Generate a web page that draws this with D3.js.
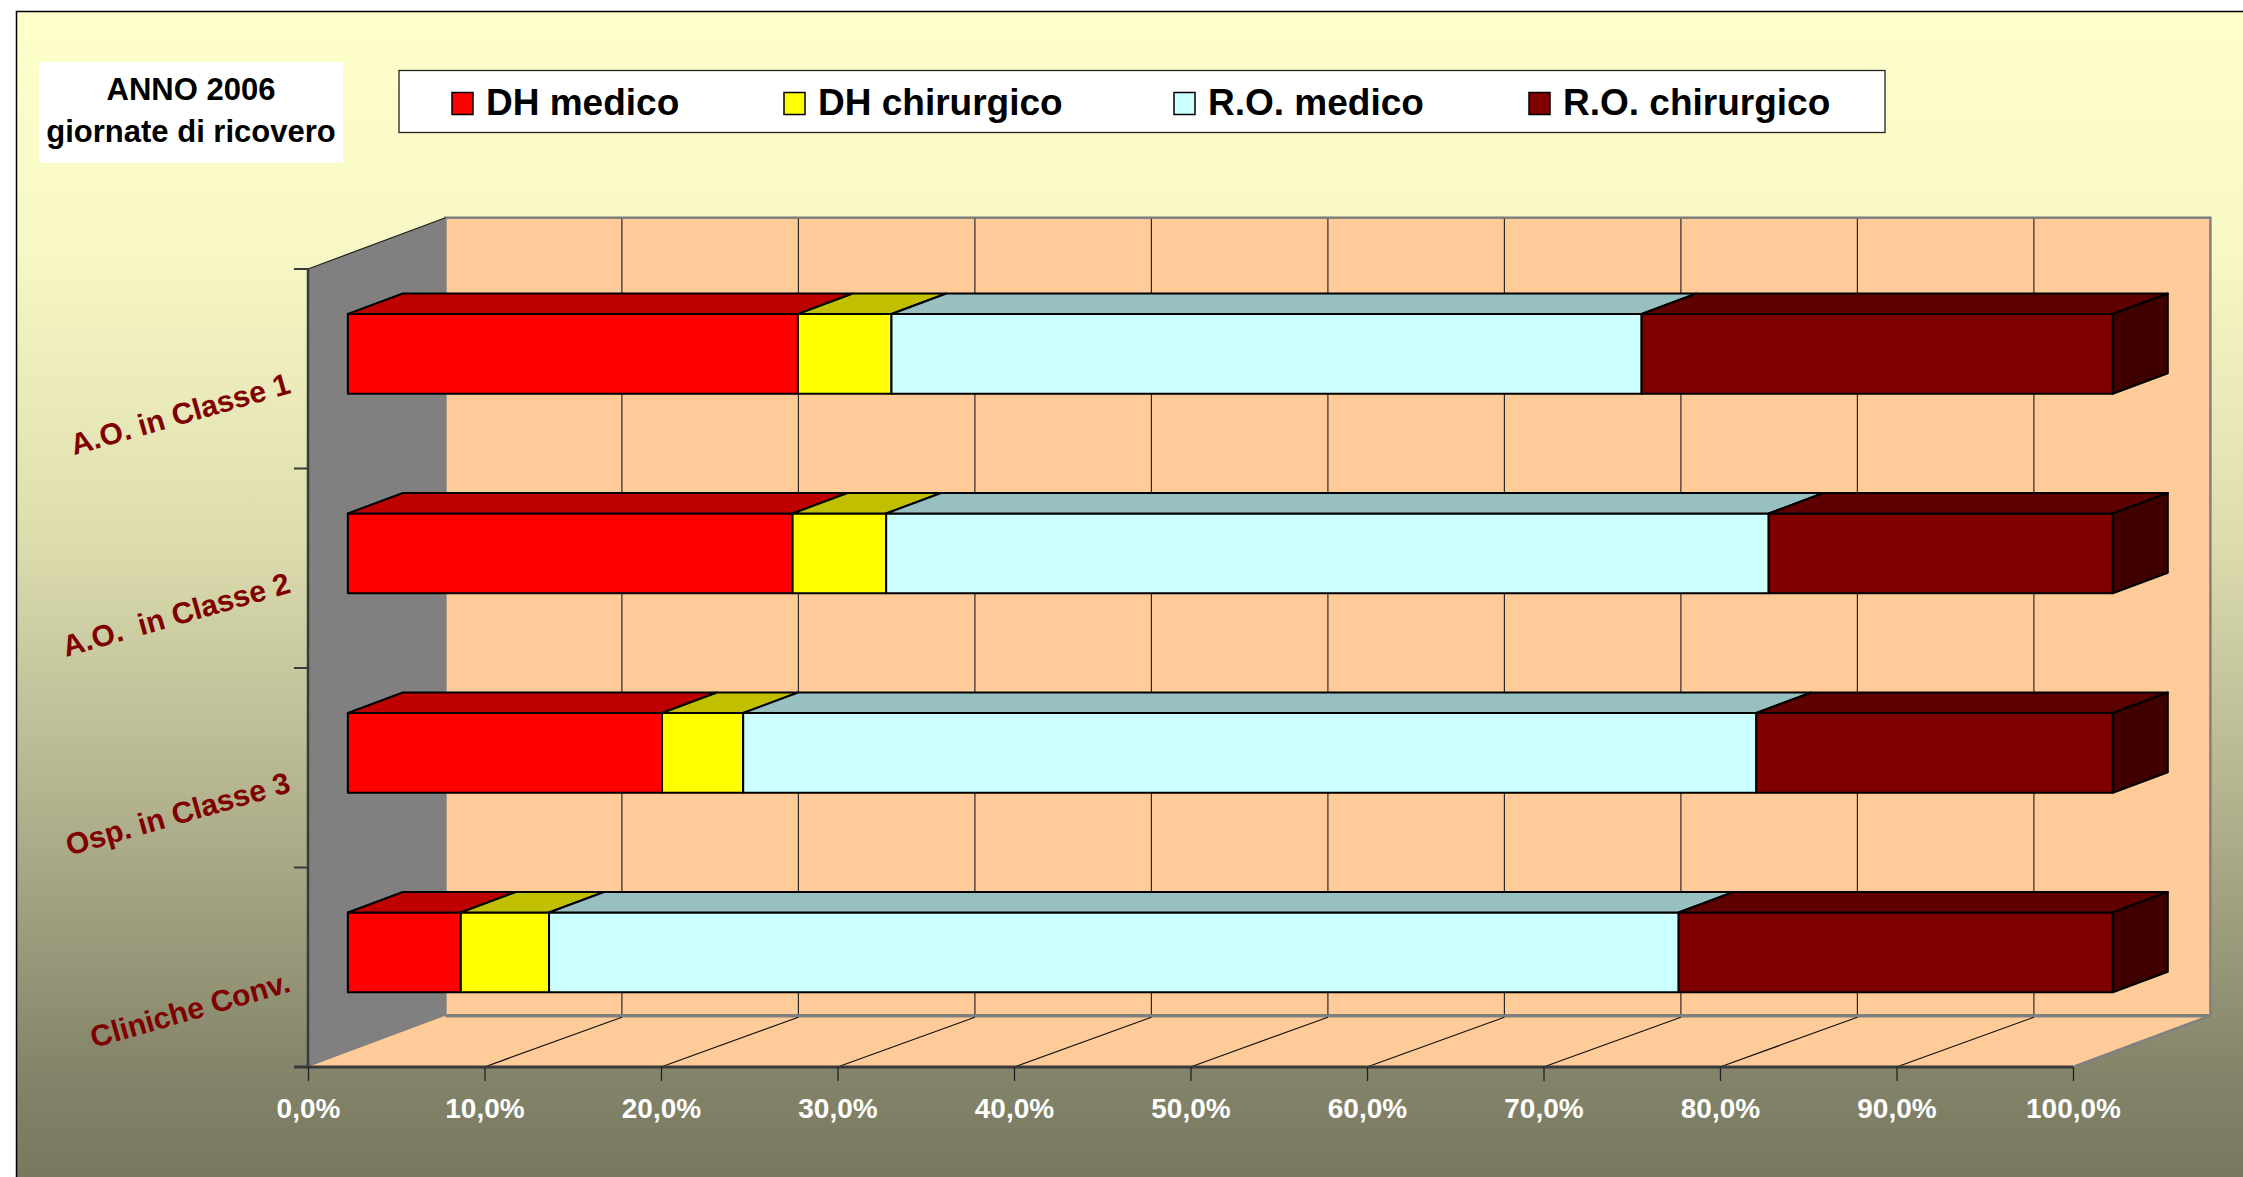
<!DOCTYPE html>
<html>
<head>
<meta charset="utf-8">
<script src="https://cdn.jsdelivr.net/npm/d3@7"></script>
<style>
  body { margin: 0; background: #fff; }
  text { font-family: "Liberation Sans", Arial, sans-serif; font-weight: bold; }
</style>
</head>
<body>
<script>
// data (percent of giornate di ricovero)
const categories = ["A.O. in Classe 1", "A.O.  in Classe 2", "Osp. in Classe 3", "Cliniche Conv."];
const seriesNames = ["DH medico", "DH chirurgico", "R.O. medico", "R.O. chirurgico"];
const dhMedico     = [25.5, 25.2, 17.8, 6.4];
const dhChirurgico = [5.3, 5.3, 4.6, 5.0];
const roMedico     = [42.5, 50.0, 57.4, 64.0];
const roChirurgico = [26.7, 19.5, 20.2, 24.6];
const xTickValues  = [0, 10, 20, 30, 40, 50, 60, 70, 80, 90, 100];
const titleLines   = ["ANNO 2006", "giornate di ricovero"];

const colors = {
    "DH medico":       {front: "#FF0000", top: "#BF0000", side: "#800000"},
    "DH chirurgico":   {front: "#FFFF00", top: "#C0C000", side: "#808000"},
    "R.O. medico":     {front: "#CCFFFF", top: "#99C0C0", side: "#669999"},
    "R.O. chirurgico": {front: "#800000", top: "#5E0000", side: "#400000"}
};

const width = 2243, height = 1177;

const svg = d3.select("body").append("svg")
    .attr("width", width)
    .attr("height", height);

// background gradient
const grad = svg.append("defs").append("linearGradient")
    .attr("id", "bg")
    .attr("x1", 0).attr("y1", 0).attr("x2", 0).attr("y2", 1);
[[0, "#FFFFCC"], [0.2, "#F8F8C6"], [0.45, "#DCDCAE"], [0.7, "#ADAD8B"], [0.9, "#84846A"], [1, "#77775F"]]
    .forEach(s => grad.append("stop").attr("offset", s[0]).attr("stop-color", s[1]));

svg.append("rect")
    .attr("x", 16.5).attr("y", 11.5)
    .attr("width", width).attr("height", height)
    .attr("fill", "url(#bg)")
    .attr("stroke", "#000")
    .attr("stroke-width", 1.5);

// scales + fake 3d projection
const x = d3.scaleLinear().domain([0, 100]).range([308, 2073]);
const y = d3.scaleBand().domain(categories).range([269, 1067])
    .paddingInner(0.6).paddingOuter(0.3);
const DX = 137.4, DY = -51.3;
const z0 = 0.29, z1 = 0.69;
const P = (v, yy, z) => [x(v) + z * DX, yy + z * DY];

const yTop = y.range()[0], yBottom = y.range()[1];
const plot = svg.append("g");

// back wall
const bw0 = P(0, yTop, 1), bw1 = P(100, yBottom, 1);
plot.append("rect")
    .attr("x", bw0[0]).attr("y", bw0[1])
    .attr("width", bw1[0] - bw0[0]).attr("height", bw1[1] - bw0[1])
    .attr("fill", "#FFCC99")
    .attr("stroke", "#808080")
    .attr("stroke-width", 2.5);

// side wall
plot.append("polygon")
    .attr("points", [P(0, yTop, 0), P(0, yTop, 1), P(0, yBottom, 1), P(0, yBottom, 0)].join(" "))
    .attr("fill", "#808080");
plot.append("line")
    .attr("x1", P(0, yTop, 0)[0]).attr("y1", P(0, yTop, 0)[1])
    .attr("x2", P(0, yTop, 1)[0]).attr("y2", P(0, yTop, 1)[1])
    .attr("stroke", "#202020").attr("stroke-width", 1.2);

// floor
plot.append("polygon")
    .attr("points", [P(0, yBottom, 0), P(100, yBottom, 0), P(100, yBottom, 1), P(0, yBottom, 1)].join(" "))
    .attr("fill", "#FFCC99");
plot.append("line")
    .attr("x1", P(0, yBottom, 1)[0]).attr("y1", P(0, yBottom, 1)[1])
    .attr("x2", P(100, yBottom, 1)[0]).attr("y2", P(100, yBottom, 1)[1])
    .attr("stroke", "#808080").attr("stroke-width", 3.5);
plot.append("line")
    .attr("x1", P(100, yBottom, 0)[0]).attr("y1", P(100, yBottom, 0)[1])
    .attr("x2", P(100, yBottom, 1)[0]).attr("y2", P(100, yBottom, 1)[1])
    .attr("stroke", "#808080").attr("stroke-width", 2.5);

// gridlines on wall and floor
const inner = xTickValues.slice(1, -1);
plot.selectAll(".wall-grid")
    .data(inner)
    .enter()
    .append("line")
    .attr("class", "wall-grid")
    .attr("x1", d => P(d, yTop, 1)[0]).attr("y1", P(0, yTop, 1)[1] + 1)
    .attr("x2", d => P(d, yBottom, 1)[0]).attr("y2", P(0, yBottom, 1)[1] - 1.5)
    .attr("stroke", "#2a2a2a").attr("stroke-width", 1.2);

plot.selectAll(".floor-grid")
    .data(inner)
    .enter()
    .append("line")
    .attr("class", "floor-grid")
    .attr("x1", d => P(d, yBottom, 0)[0]).attr("y1", d => P(d, yBottom, 0)[1])
    .attr("x2", d => P(d, yBottom, 1)[0]).attr("y2", d => P(d, yBottom, 1)[1] + 1.5)
    .attr("stroke", "#111").attr("stroke-width", 1.2);

// bars
const table = categories.map((c, i) => ({
    cat: c,
    "DH medico": dhMedico[i],
    "DH chirurgico": dhChirurgico[i],
    "R.O. medico": roMedico[i],
    "R.O. chirurgico": roChirurgico[i]
}));
const stacked = d3.stack().keys(seriesNames)(table);

const bars = plot.append("g");
stacked.forEach((layer, li) => {
    const col = colors[layer.key];
    const last = li === stacked.length - 1;
    layer.forEach(d => {
        const v0 = d[0], v1 = d[1];
        const ya = y(d.data.cat), yb = ya + y.bandwidth();
        const g = bars.append("g")
            .attr("stroke", "#000")
            .attr("stroke-width", 2)
            .attr("stroke-linejoin", "round");
        g.append("polygon")
            .attr("points", [P(v0, ya, z0), P(v1, ya, z0), P(v1, yb, z0), P(v0, yb, z0)].join(" "))
            .attr("fill", col.front);
        g.append("polygon")
            .attr("points", [P(v0, ya, z0), P(v1, ya, z0), P(v1, ya, z1), P(v0, ya, z1)].join(" "))
            .attr("fill", col.top);
        if (last) {
            g.append("polygon")
                .attr("points", [P(v1, ya, z0), P(v1, ya, z1), P(v1, yb, z1), P(v1, yb, z0)].join(" "))
                .attr("fill", col.side);
        }
    });
});

// vertical axis and category ticks
const axisColor = "#3a3a3a";
plot.append("line")
    .attr("x1", x(0)).attr("y1", yTop)
    .attr("x2", x(0)).attr("y2", yBottom)
    .attr("stroke", axisColor).attr("stroke-width", 2.5);

const boundaries = d3.range(categories.length + 1).map(i => yTop + i * y.step());
plot.selectAll(".cat-tick")
    .data(boundaries)
    .enter()
    .append("line")
    .attr("class", "cat-tick")
    .attr("x1", x(0) - 14).attr("y1", d => d)
    .attr("x2", x(0)).attr("y2", d => d)
    .attr("stroke", axisColor).attr("stroke-width", 2);

// x axis on the front edge of the floor
const it = d3.formatLocale({decimal: ",", thousands: ".", grouping: [3], currency: ["€", ""]});
const fmt = it.format(".1f");

const xAxis = plot.append("g")
    .attr("transform", `translate(0 ${yBottom})`)
    .call(d3.axisBottom(x)
        .tickValues(xTickValues)
        .tickSize(14)
        .tickSizeOuter(0)
        .tickPadding(17)
        .tickFormat(d => fmt(d) + "%"));
xAxis.select(".domain")
    .attr("d", `M${x(0) - 14},0H${x(100)}`)
    .attr("stroke", axisColor).attr("stroke-width", 3);
xAxis.selectAll(".tick line").attr("stroke", "#222").attr("stroke-width", 1.3);
xAxis.selectAll(".tick text")
    .attr("fill", "#fff")
    .style("font-family", '"Liberation Sans", Arial, sans-serif')
    .style("font-weight", "bold")
    .style("font-size", "28px");

// category labels, rotated
plot.selectAll(".cat-label")
    .data(categories)
    .enter()
    .append("text")
    .attr("class", "cat-label")
    .attr("transform", d => `translate(292 ${y(d) + y.bandwidth() / 2 + 24}) rotate(-16)`)
    .attr("text-anchor", "end")
    .attr("fill", "#800000")
    .style("font-size", "30px")
    .style("white-space", "pre")
    .text(d => d);

// title box
svg.append("rect")
    .attr("x", 39).attr("y", 62)
    .attr("width", 304).attr("height", 101)
    .attr("fill", "#fff");
svg.selectAll(".title")
    .data(titleLines)
    .enter()
    .append("text")
    .attr("class", "title")
    .attr("x", 191)
    .attr("y", (d, i) => 100 + i * 42)
    .attr("text-anchor", "middle")
    .attr("fill", "#000")
    .style("font-size", "31px")
    .text(d => d);

// legend
svg.append("rect")
    .attr("x", 399).attr("y", 70.5)
    .attr("width", 1486).attr("height", 62)
    .attr("fill", "#fff")
    .attr("stroke", "#222")
    .attr("stroke-width", 1.3);

const legendX = [452, 784, 1174, 1529];
const leg = svg.selectAll(".legend-item")
    .data(seriesNames)
    .enter()
    .append("g")
    .attr("class", "legend-item")
    .attr("transform", (d, i) => `translate(${legendX[i]} 0)`);
leg.append("rect")
    .attr("x", 0).attr("y", 92.5)
    .attr("width", 21).attr("height", 22)
    .attr("fill", d => colors[d].front)
    .attr("stroke", "#000")
    .attr("stroke-width", 1.5);
leg.append("text")
    .attr("x", 34).attr("y", 115)
    .attr("fill", "#000")
    .style("font-size", "37px")
    .text(d => d);
</script>
</body>
</html>
